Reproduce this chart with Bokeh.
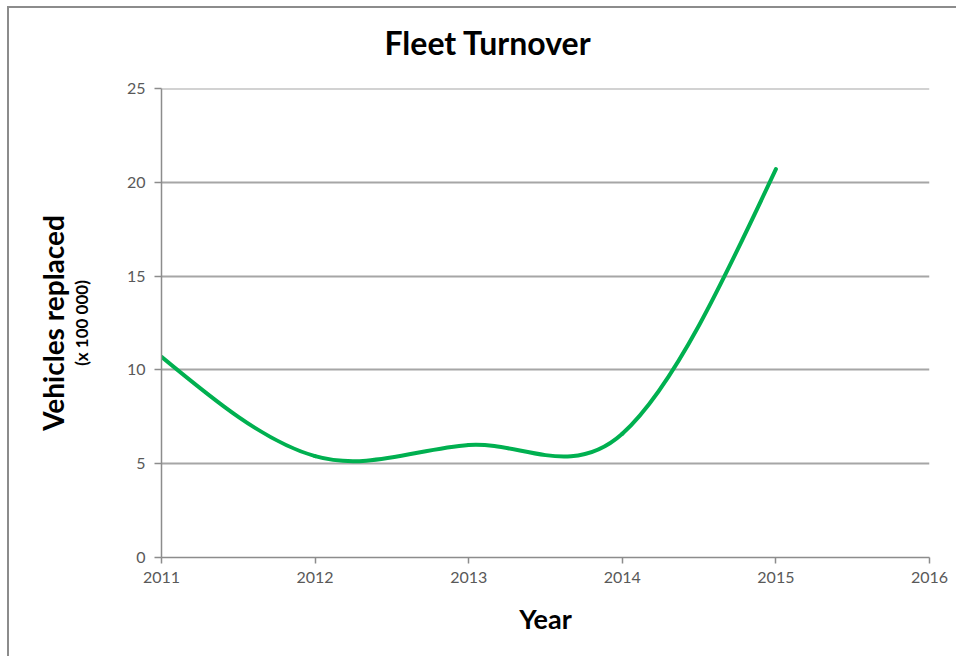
from bokeh.plotting import figure
from bokeh.models import Range1d, FixedTicker, ColumnDataSource, LinearAxis, Span, Title
from bokeh.embed import file_html
from bokeh.resources import INLINE

# ---- data ----
title_text = "Fleet Turnover"
x_label = "Year"
y_label = "Vehicles replaced"
y_sublabel = "(x 100 000)"
years = [2011, 2012, 2013, 2014, 2015]
vehicles = [10.7, 5.4, 6.0, 6.6, 20.7]
x_ticks = [2011, 2012, 2013, 2014, 2015, 2016]
y_ticks = [0, 5, 10, 15, 20, 25]

# ---- layout (pixels) ----
W, H = 949, 650
B_LEFT, B_TOP, B_RIGHT, B_BOTTOM = 152, 80, 29, 101

x0, x1 = x_ticks[0], x_ticks[-1]
y0, y1 = y_ticks[0], y_ticks[-1]

# ---- smoothed curve control points (Catmull-Rom style, natural ends) ----
n = len(years)
pts = list(zip(years, vehicles))
seg = dict(x0=[], y0=[], x1=[], y1=[], cx0=[], cy0=[], cx1=[], cy1=[])
for i in range(n - 1):
    p1, p2 = pts[i], pts[i + 1]
    c1 = None
    c2 = None
    if i > 0:
        p0 = pts[i - 1]
        c1 = (p1[0] + (p2[0] - p0[0]) / 6, p1[1] + (p2[1] - p0[1]) / 6)
    if i < n - 2:
        p3 = pts[i + 2]
        c2 = (p2[0] - (p3[0] - p1[0]) / 6, p2[1] - (p3[1] - p1[1]) / 6)
    if c1 is None:
        c1 = ((p1[0] + c2[0]) / 2, (p1[1] + c2[1]) / 2)
    if c2 is None:
        c2 = ((p2[0] + c1[0]) / 2, (p2[1] + c1[1]) / 2)
    seg["x0"].append(p1[0]); seg["y0"].append(p1[1])
    seg["x1"].append(p2[0]); seg["y1"].append(p2[1])
    seg["cx0"].append(c1[0]); seg["cy0"].append(c1[1])
    seg["cx1"].append(c2[0]); seg["cy1"].append(c2[1])

FONT = "Lato"
TICK_COLOR = "#595959"
AXIS_COLOR = "#8c8c8c"
GRID_COLOR = "#a6a6a6"

p = figure(
    width=W, height=H,
    x_range=Range1d(x0, x1), y_range=Range1d(y0, y1),
    min_border_left=B_LEFT, min_border_top=B_TOP,
    min_border_right=B_RIGHT, min_border_bottom=B_BOTTOM,
    output_backend="svg", toolbar_location=None,
    margin=(6, 0, 0, 7),
    styles={"border-left": "2px solid #8c8c8c", "border-top": "2px solid #8c8c8c"},
)
p.outline_line_color = None
p.background_fill_color = "white"
p.border_fill_color = "white"

# spacer between frame and title, then the title itself
spacer = Title(text=" ", text_font=FONT, text_font_size="16px", standoff=6)
p.add_layout(spacer, "above")
main_title = Title(text=title_text, align="left", offset=223, standoff=0,
                   text_font=FONT, text_font_size="32px", text_font_style="bold",
                   text_color="black")
p.add_layout(main_title, "above")

p.xgrid.visible = False
p.ygrid.grid_line_color = GRID_COLOR
p.ygrid.grid_line_width = 2
p.ygrid.ticker = FixedTicker(ticks=y_ticks)
p.add_layout(Span(location=y1, dimension="width", line_color=GRID_COLOR, line_width=2))

p.xaxis.ticker = FixedTicker(ticks=x_ticks)
p.yaxis.ticker = FixedTicker(ticks=y_ticks)
for ax in (p.xaxis, p.yaxis):
    ax.axis_line_color = AXIS_COLOR
    ax.axis_line_width = 1.5
    ax.major_tick_line_color = AXIS_COLOR
    ax.major_tick_line_width = 1.5
    ax.major_tick_in = 0
    ax.minor_tick_line_color = None
    ax.major_label_text_font = FONT
    ax.major_label_text_font_size = "16px"
    ax.major_label_text_color = TICK_COLOR
p.xaxis.major_tick_out = 6
p.yaxis.major_tick_out = 7
p.xaxis.major_label_standoff = 8
p.yaxis.major_label_standoff = 9

p.xaxis.axis_label = x_label
p.xaxis.axis_label_text_font = FONT
p.xaxis.axis_label_text_font_size = "27px"
p.xaxis.axis_label_text_font_style = "bold"
p.xaxis.axis_label_text_color = "black"
p.xaxis.axis_label_standoff = 16

p.yaxis.axis_label = y_sublabel
p.yaxis.axis_label_text_font = FONT
p.yaxis.axis_label_text_font_size = "17px"
p.yaxis.axis_label_text_font_style = "bold"
p.yaxis.axis_label_text_color = "black"
p.yaxis.axis_label_standoff = 32

outer = LinearAxis(ticker=FixedTicker(ticks=[]), axis_line_color=None,
                   major_tick_line_color=None, minor_tick_line_color=None,
                   major_label_text_font_size="0px", axis_label=y_label,
                   axis_label_text_font=FONT, axis_label_text_font_size="28px",
                   axis_label_text_font_style="bold", axis_label_text_color="black",
                   axis_label_standoff=-2)
p.add_layout(outer, "left")

src = ColumnDataSource(seg)
p.bezier(x0="x0", y0="y0", x1="x1", y1="y1", cx0="cx0", cy0="cy0",
         cx1="cx1", cy1="cy1", source=src, line_color="#00b050",
         line_width=4, line_cap="round")

open("out.html", "w").write(file_html(p, INLINE))
